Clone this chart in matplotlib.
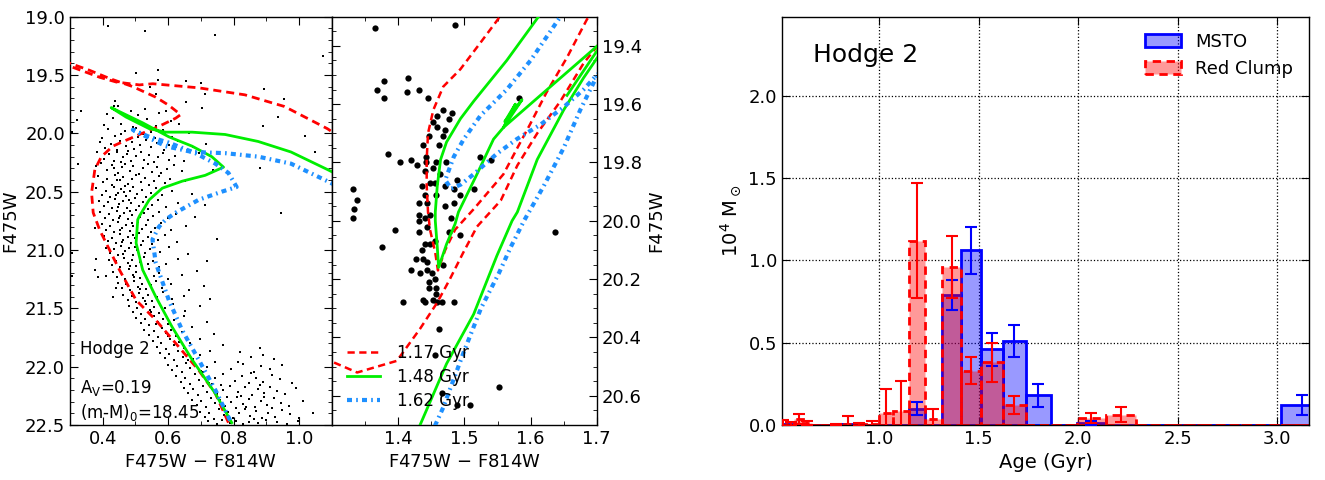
import matplotlib
matplotlib.use("Agg")
import matplotlib.pyplot as plt
import numpy as np
from matplotlib.ticker import MultipleLocator

# ---------------- CMD photometry (F475W - F814W, F475W)
cmd_stars = [
    (0.416, 19.08), (0.530, 19.12), (0.744, 19.16), (1.074, 19.34), (0.502, 19.48), (0.570, 19.46),
    (0.570, 19.54), (0.653, 19.55), (0.700, 19.57), (0.544, 19.60), (0.562, 19.66), (0.713, 19.66),
    (0.893, 19.62), (0.953, 19.71), (0.439, 19.72), (0.436, 19.77), (0.335, 19.81), (0.320, 19.89),
    (0.653, 19.73), (0.703, 19.78), (0.935, 19.86), (0.890, 19.94), (1.018, 20.02), (1.048, 20.16),
    (0.880, 20.30), (0.943, 20.68), (0.305, 19.99), (0.325, 20.26), (0.376, 20.81), (0.379, 21.08),
    (0.376, 21.17), (0.386, 21.23), (0.411, 21.22), (0.431, 21.40), (0.441, 21.33), (0.305, 21.03),
    (0.306, 21.22),
    # turnoff region
    (0.447, 19.763), (0.486, 19.812), (0.529, 19.788), (0.412, 19.834), (0.463, 19.846), (0.571, 19.829),
    (0.508, 19.841), (0.594, 19.807), (0.431, 19.872), (0.455, 19.918), (0.478, 19.861), (0.517, 19.903),
    (0.536, 19.879), (0.562, 19.937), (0.608, 19.894), (0.403, 19.926), (0.492, 19.944), (0.633, 19.921),
    (0.417, 19.967), (0.439, 20.021), (0.468, 19.984), (0.483, 20.046), (0.501, 19.958), (0.524, 20.008),
    (0.547, 19.991), (0.559, 20.037), (0.583, 19.973), (0.612, 20.029), (0.664, 19.996), (0.398, 20.043),
    (0.456, 20.004), (0.509, 20.031), (0.391, 20.071), (0.407, 20.128), (0.426, 20.089), (0.444, 20.142),
    (0.452, 20.063), (0.471, 20.109), (0.489, 20.077), (0.497, 20.136), (0.514, 20.098), (0.532, 20.054),
    (0.548, 20.121), (0.566, 20.083), (0.588, 20.147), (0.603, 20.104), (0.629, 20.068), (0.676, 20.117),
    (0.715, 20.091), (0.478, 20.149), (0.384, 20.163), (0.403, 20.219), (0.419, 20.181), (0.436, 20.241),
    (0.443, 20.157), (0.461, 20.204), (0.474, 20.176), (0.486, 20.233), (0.503, 20.192), (0.516, 20.158),
    (0.527, 20.226), (0.541, 20.185), (0.557, 20.247), (0.569, 20.207), (0.584, 20.169), (0.602, 20.229),
    (0.621, 20.196), (0.647, 20.238), (0.693, 20.172), (0.455, 20.248), (0.379, 20.284), (0.396, 20.257),
    (0.412, 20.316), (0.428, 20.273), (0.447, 20.339), (0.458, 20.291), (0.469, 20.262), (0.482, 20.324),
    (0.494, 20.281), (0.511, 20.347), (0.523, 20.301), (0.538, 20.266), (0.551, 20.329), (0.567, 20.289),
    (0.579, 20.343), (0.596, 20.308), (0.618, 20.271), (0.641, 20.326), (0.738, 20.311), (0.433, 20.301),
    (0.386, 20.367), (0.401, 20.421), (0.414, 20.388), (0.427, 20.441), (0.438, 20.359), (0.452, 20.402),
    (0.463, 20.374), (0.478, 20.433), (0.489, 20.391), (0.501, 20.356), (0.517, 20.417), (0.529, 20.381),
    (0.542, 20.446), (0.556, 20.407), (0.571, 20.363), (0.589, 20.428), (0.606, 20.394), (0.652, 20.412),
    (0.468, 20.449), (0.443, 20.396),
    # upper main sequence
    (0.381, 20.472), (0.397, 20.526), (0.409, 20.491), (0.423, 20.543), (0.436, 20.461), (0.448, 20.508),
    (0.457, 20.479), (0.471, 20.537), (0.483, 20.497), (0.494, 20.458), (0.506, 20.521), (0.519, 20.484),
    (0.532, 20.548), (0.547, 20.512), (0.563, 20.469), (0.581, 20.531), (0.612, 20.494), (0.672, 20.516),
    (0.441, 20.529), (0.466, 20.503), (0.389, 20.576), (0.403, 20.624), (0.416, 20.591), (0.428, 20.643),
    (0.439, 20.563), (0.451, 20.607), (0.462, 20.581), (0.474, 20.638), (0.487, 20.598), (0.498, 20.557),
    (0.511, 20.619), (0.523, 20.586), (0.537, 20.647), (0.552, 20.611), (0.568, 20.571), (0.593, 20.629),
    (0.631, 20.596), (0.712, 20.617), (0.446, 20.628), (0.479, 20.569), (0.392, 20.678), (0.406, 20.724),
    (0.418, 20.691), (0.431, 20.741), (0.443, 20.663), (0.454, 20.708), (0.466, 20.682), (0.477, 20.737),
    (0.489, 20.697), (0.501, 20.659), (0.514, 20.719), (0.526, 20.686), (0.539, 20.746), (0.553, 20.712),
    (0.571, 20.671), (0.598, 20.729), (0.624, 20.694), (0.681, 20.716), (0.449, 20.728), (0.483, 20.669),
    (0.397, 20.779), (0.411, 20.826), (0.423, 20.791), (0.436, 20.843), (0.447, 20.763), (0.458, 20.809),
    (0.471, 20.784), (0.482, 20.838), (0.494, 20.798), (0.507, 20.758), (0.519, 20.821), (0.531, 20.787),
    (0.546, 20.847), (0.561, 20.813), (0.579, 20.772), (0.609, 20.831), (0.653, 20.796), (0.452, 20.829),
    (0.488, 20.768), (0.403, 20.881), (0.416, 20.927), (0.428, 20.893), (0.441, 20.944), (0.452, 20.864),
    (0.463, 20.911), (0.476, 20.886), (0.487, 20.939), (0.499, 20.899), (0.512, 20.858), (0.524, 20.922),
    (0.537, 20.889), (0.552, 20.948), (0.568, 20.914), (0.589, 20.873), (0.627, 20.932), (0.748, 20.904),
    (0.458, 20.931), (0.493, 20.869), (0.409, 20.983), (0.421, 21.028), (0.434, 20.994), (0.446, 21.046),
    (0.457, 20.964), (0.469, 21.012), (0.481, 20.987), (0.492, 21.039), (0.504, 20.999), (0.517, 20.958),
    (0.529, 21.023), (0.543, 20.991), (0.558, 21.048), (0.576, 21.014), (0.603, 20.973), (0.662, 21.031),
    (0.463, 21.034), (0.498, 20.971), (0.418, 21.084), (0.429, 21.129), (0.442, 21.096), (0.454, 21.147),
    (0.466, 21.066), (0.477, 21.113), (0.489, 21.088), (0.501, 21.139), (0.513, 21.101), (0.526, 21.061),
    (0.538, 21.124), (0.553, 21.092), (0.571, 21.148), (0.594, 21.116), (0.631, 21.076), (0.718, 21.098),
    (0.482, 21.136), (0.431, 21.186), (0.443, 21.228), (0.456, 21.194), (0.468, 21.246), (0.479, 21.167),
    (0.491, 21.213), (0.503, 21.188), (0.514, 21.239), (0.527, 21.201), (0.541, 21.162), (0.556, 21.224),
    (0.573, 21.193), (0.599, 21.247), (0.642, 21.216), (0.688, 21.178), (0.497, 21.232), (0.447, 21.284),
    (0.459, 21.327), (0.472, 21.293), (0.484, 21.346), (0.496, 21.268), (0.508, 21.314), (0.519, 21.289),
    (0.532, 21.338), (0.546, 21.301), (0.562, 21.263), (0.581, 21.324), (0.608, 21.292), (0.663, 21.341),
    (0.708, 21.309), (0.513, 21.331), (0.463, 21.386), (0.476, 21.428), (0.488, 21.393), (0.501, 21.446),
    (0.512, 21.367), (0.524, 21.414), (0.537, 21.389), (0.551, 21.437), (0.566, 21.401), (0.584, 21.362),
    (0.612, 21.424), (0.647, 21.397), (0.728, 21.421), (0.529, 21.441),
    # lower main sequence and the faint red group
    (0.481, 21.484), (0.494, 21.528), (0.506, 21.493), (0.518, 21.546), (0.531, 21.467), (0.543, 21.514),
    (0.557, 21.489), (0.572, 21.537), (0.589, 21.501), (0.614, 21.463), (0.652, 21.524), (0.698, 21.478),
    (0.548, 21.531), (0.503, 21.586), (0.516, 21.628), (0.529, 21.593), (0.542, 21.646), (0.556, 21.567),
    (0.569, 21.614), (0.583, 21.589), (0.598, 21.637), (0.619, 21.601), (0.647, 21.563), (0.718, 21.618),
    (0.562, 21.633), (0.527, 21.684), (0.541, 21.727), (0.556, 21.693), (0.568, 21.746), (0.581, 21.667),
    (0.593, 21.714), (0.608, 21.689), (0.624, 21.737), (0.643, 21.701), (0.672, 21.663), (0.739, 21.722),
    (0.599, 21.741), (0.553, 21.784), (0.566, 21.828), (0.579, 21.793), (0.593, 21.846), (0.606, 21.767),
    (0.619, 21.814), (0.632, 21.789), (0.648, 21.837), (0.667, 21.801), (0.698, 21.763), (0.768, 21.818),
    (0.879, 21.843), (0.576, 21.886), (0.589, 21.928), (0.603, 21.893), (0.617, 21.946), (0.631, 21.867),
    (0.644, 21.914), (0.659, 21.889), (0.676, 21.937), (0.697, 21.901), (0.728, 21.863), (0.818, 21.878),
    (0.852, 21.921), (0.889, 21.897), (0.923, 21.934), (0.661, 21.941), (0.598, 21.986), (0.612, 22.029),
    (0.626, 21.994), (0.641, 22.046), (0.655, 21.967), (0.668, 22.013), (0.683, 21.989), (0.699, 22.037),
    (0.718, 22.002), (0.743, 21.963), (0.791, 22.021), (0.828, 21.976), (0.861, 22.043), (0.884, 21.991),
    (0.912, 22.017), (0.948, 21.982), (0.812, 21.958), (0.706, 22.048), (0.623, 22.084), (0.638, 22.128),
    (0.652, 22.093), (0.667, 22.146), (0.681, 22.067), (0.694, 22.113), (0.709, 22.089), (0.724, 22.137),
    (0.742, 22.101), (0.766, 22.063), (0.803, 22.121), (0.826, 22.076), (0.847, 22.143), (0.869, 22.094),
    (0.891, 22.128), (0.918, 22.071), (0.942, 22.109), (0.979, 22.138), (0.853, 22.058), (0.733, 22.149),
    (0.648, 22.186), (0.662, 22.228), (0.677, 22.193), (0.691, 22.246), (0.706, 22.167), (0.719, 22.214),
    (0.734, 22.189), (0.749, 22.237), (0.766, 22.201), (0.788, 22.163), (0.812, 22.221), (0.834, 22.177),
    (0.856, 22.243), (0.873, 22.194), (0.894, 22.229), (0.911, 22.171), (0.932, 22.208), (0.958, 22.238),
    (0.991, 22.186), (0.823, 22.249), (0.762, 22.158), (0.879, 22.153), (0.672, 22.284), (0.687, 22.327),
    (0.701, 22.293), (0.716, 22.346), (0.731, 22.267), (0.744, 22.314), (0.759, 22.289), (0.774, 22.337),
    (0.791, 22.301), (0.809, 22.263), (0.827, 22.321), (0.846, 22.277), (0.864, 22.343), (0.882, 22.294),
    (0.901, 22.329), (0.923, 22.271), (0.944, 22.308), (0.968, 22.338), (1.012, 22.296), (0.838, 22.349),
    (0.781, 22.258), (0.893, 22.256), (0.697, 22.386), (0.712, 22.428), (0.726, 22.393), (0.741, 22.446),
    (0.756, 22.367), (0.769, 22.414), (0.784, 22.389), (0.799, 22.437), (0.816, 22.401), (0.834, 22.363),
    (0.851, 22.421), (0.869, 22.377), (0.887, 22.443), (0.906, 22.394), (0.927, 22.429), (0.949, 22.371),
    (0.972, 22.408), (0.998, 22.438), (1.041, 22.396), (0.861, 22.449), (0.808, 22.358), (0.918, 22.356),
    (0.721, 22.466), (0.748, 22.489), (0.763, 22.458), (0.789, 22.481), (0.806, 22.463), (0.829, 22.493),
    (0.848, 22.471), (0.873, 22.486), (0.898, 22.459), (0.931, 22.478), (0.962, 22.491), (0.997, 22.469),
]

# red clump region stars (middle panel)
rc_stars = [
    (1.365, 19.34), (1.486, 19.33), (1.379, 19.52), (1.368, 19.55), (1.379, 19.58), (1.415, 19.51),
    (1.414, 19.56), (1.431, 19.55), (1.445, 19.58), (1.583, 19.58), (1.468, 19.62), (1.481, 19.63),
    (1.459, 19.64), (1.476, 19.65), (1.453, 19.66), (1.459, 19.68), (1.471, 19.69), (1.447, 19.71),
    (1.468, 19.71), (1.438, 19.74), (1.462, 19.74), (1.384, 19.77), (1.403, 19.80), (1.419, 19.79),
    (1.429, 19.81), (1.442, 19.78), (1.442, 19.80), (1.457, 19.80), (1.453, 19.82), (1.441, 19.83),
    (1.463, 19.84), (1.456, 19.87), (1.472, 19.80), (1.524, 19.78), (1.540, 19.79), (1.436, 19.88),
    (1.448, 19.87), (1.471, 19.88), (1.484, 19.89), (1.489, 19.86), (1.515, 19.89), (1.494, 19.91),
    (1.440, 19.91), (1.457, 19.91), (1.431, 19.94), (1.444, 19.94), (1.471, 19.95), (1.485, 19.94),
    (1.332, 19.89), (1.338, 19.93), (1.333, 19.96), (1.331, 19.99), (1.432, 19.98), (1.441, 19.99),
    (1.448, 19.98), (1.479, 19.99), (1.395, 20.03), (1.375, 20.09), (1.431, 20.00), (1.432, 20.04),
    (1.443, 20.02), (1.440, 20.08), (1.448, 20.08), (1.436, 20.10), (1.456, 20.07), (1.477, 20.04),
    (1.493, 20.05), (1.427, 20.13), (1.438, 20.13), (1.443, 20.14), (1.420, 20.17), (1.433, 20.18),
    (1.444, 20.17), (1.451, 20.18), (1.446, 20.21), (1.456, 20.20), (1.447, 20.23), (1.457, 20.23),
    (1.457, 20.25), (1.438, 20.27), (1.440, 20.28), (1.453, 20.27), (1.458, 20.28), (1.466, 20.28),
    (1.407, 20.28), (1.484, 20.28), (1.468, 20.15), (1.462, 20.37), (1.637, 20.04), (1.455, 20.46),
    (1.466, 20.59), (1.553, 20.57), (1.489, 20.63), (1.509, 20.63),
]

# isochrones in the full CMD (left panel)
iso117_col = [0.784, 0.744, 0.693, 0.623, 0.562, 0.502, 0.451, 0.421, 0.391, 0.371, 0.366, 0.376, 0.396,
              0.431, 0.471, 0.512, 0.572, 0.623, 0.638, 0.602, 0.562, 0.492, 0.421, 0.360, 0.300, 0.270,
              0.300, 0.391, 0.441, 0.512, 0.553, 0.693, 0.834, 0.955, 1.086, 1.150]
iso117_mag = [22.48, 22.23, 22.03, 21.80, 21.60, 21.43, 21.17, 21.00, 20.83, 20.68, 20.51, 20.31, 20.20,
              20.11, 20.06, 20.01, 19.94, 19.87, 19.84, 19.76, 19.69, 19.60, 19.53, 19.46, 19.40, 19.37,
              19.425, 19.52, 19.56, 19.585, 19.575, 19.61, 19.67, 19.77, 19.96, 20.08]
iso148_col = [0.794, 0.744, 0.673, 0.612, 0.562, 0.522, 0.502, 0.507, 0.512, 0.542, 0.582, 0.643, 0.713,
              0.769, 0.733, 0.673, 0.602, 0.522, 0.426, 0.471, 0.542, 0.592, 0.673, 0.774, 0.875, 0.975,
              1.086, 1.150]
iso148_mag = [22.48, 22.23, 21.94, 21.66, 21.40, 21.17, 20.94, 20.74, 20.71, 20.57, 20.47, 20.41, 20.36,
              20.29, 20.20, 20.11, 20.03, 19.91, 19.78, 19.86, 19.96, 19.99, 19.99, 20.01, 20.07, 20.16,
              20.31, 20.40]
iso162_col = [0.789, 0.744, 0.693, 0.643, 0.602, 0.562, 0.552, 0.572, 0.592, 0.623, 0.693, 0.764, 0.809,
              0.784, 0.744, 0.683, 0.602, 0.542, 0.492, 0.542, 0.592, 0.673, 0.774, 0.875, 0.975, 1.086,
              1.150]
iso162_mag = [22.46, 22.20, 21.94, 21.69, 21.43, 21.11, 20.91, 20.80, 20.74, 20.68, 20.57, 20.50, 20.46,
              20.34, 20.26, 20.17, 20.08, 20.03, 19.97, 20.04, 20.11, 20.16, 20.17, 20.20, 20.26, 20.41,
              20.50]

# isochrones around the red clump (middle panel), several pieces each
rc117_col = [[1.250, 1.297, 1.338, 1.398, 1.433, 1.459, 1.478, 1.498, 1.519, 1.555, 1.580, 1.610, 1.645,
              1.680, 1.701, 1.750],
             [1.580, 1.552, 1.524, 1.494, 1.468, 1.453, 1.445, 1.443, 1.443, 1.445, 1.448, 1.456, 1.460,
              1.471, 1.486, 1.514, 1.559, 1.580, 1.599, 1.624, 1.655, 1.685, 1.700]]
rc117_mag = [[20.38, 20.48, 20.52, 20.48, 20.37, 20.28, 20.20, 20.11, 20.02, 19.93, 19.81, 19.70, 19.59,
              19.46, 19.40, 19.25],
             [19.22, 19.305, 19.39, 19.48, 19.54, 19.62, 19.70, 19.79, 19.88, 19.97, 20.03, 20.11, 20.17,
              20.10, 20.03, 19.96, 19.84, 19.75, 19.67, 19.56, 19.44, 19.31, 19.26]]
rc148_col = [[1.410, 1.433, 1.473, 1.514, 1.549, 1.572, 1.580, 1.610, 1.650, 1.680, 1.701, 1.750],
             [1.750, 1.701, 1.559, 1.587, 1.561, 1.577, 1.559, 1.544, 1.519, 1.491, 1.486, 1.473, 1.461,
              1.459, 1.456, 1.456, 1.459, 1.464, 1.473, 1.494, 1.514, 1.564, 1.612, 1.630],
             [1.750, 1.701, 1.655]]
rc148_mag = [[20.80, 20.70, 20.49, 20.32, 20.12, 20.00, 19.97, 19.79, 19.62, 19.51, 19.44, 19.33],
             [19.31, 19.40, 19.68, 19.585, 19.66, 19.60, 19.68, 19.72, 19.84, 19.97, 20.01, 20.08, 20.16,
              20.09, 20.00, 19.97, 19.88, 19.79, 19.73, 19.65, 19.59, 19.45, 19.30, 19.24],
             [19.33, 19.415, 19.57]]
rc162_col = [[1.440, 1.456, 1.468, 1.499, 1.525, 1.552, 1.570, 1.590, 1.620, 1.650, 1.675, 1.701, 1.750],
             [1.670, 1.645, 1.600, 1.564, 1.524, 1.499, 1.484, 1.471, 1.480, 1.495, 1.514, 1.549, 1.579,
              1.615, 1.650, 1.680, 1.700, 1.750]]
rc162_mag = [[20.80, 20.70, 20.64, 20.45, 20.30, 20.18, 20.09, 20.00, 19.88, 19.75, 19.62, 19.50, 19.40],
             [19.22, 19.30, 19.45, 19.55, 19.64, 19.72, 19.78, 19.86, 19.89, 19.875, 19.84, 19.77, 19.72,
              19.67, 19.61, 19.55, 19.50, 19.42]]

iso_labels = ["1.17 Gyr", "1.48 Gyr", "1.62 Gyr"]

# ---------------- star formation history (mass per age bin)
age_edges = [0.501, 0.537, 0.575, 0.617, 0.661, 0.708, 0.759, 0.813, 0.871, 0.933, 1.000, 1.072, 1.148,
             1.230, 1.318, 1.413, 1.514, 1.622, 1.738, 1.862, 1.995, 2.138, 2.291, 2.455, 2.630, 2.818,
             3.020, 3.236]
msto_mass = [0.005, 0.003, 0.0, 0.0, 0.0, 0.0, 0.004, 0.003, 0.0, 0.0, 0.0, 0.0, 0.10, 0.0, 0.79, 1.06,
             0.46, 0.51, 0.18, 0.0, 0.012, 0.0, 0.0, 0.0, 0.0, 0.0, 0.12]
msto_err = [0.0, 0.0, 0.0, 0.0, 0.0, 0.0, 0.0, 0.0, 0.0, 0.0, 0.0, 0.0, 0.04, 0.0, 0.09, 0.14,
            0.10, 0.10, 0.07, 0.0, 0.012, 0.0, 0.0, 0.0, 0.0, 0.0, 0.06]
rc_mass = [0.012, 0.008, 0.035, 0.012, 0.0, 0.0, 0.004, 0.008, 0.004, 0.006, 0.07, 0.087, 1.12, 0.037,
           0.96, 0.33, 0.38, 0.12, 0.0, 0.0, 0.045, 0.063, 0.0, 0.0, 0.0, 0.0, 0.0]
rc_err = [0.018, 0.012, 0.03, 0.01, 0.0, 0.0, 0.005, 0.045, 0.01, 0.02, 0.15, 0.18, 0.35, 0.06,
          0.19, 0.08, 0.12, 0.055, 0.0, 0.0, 0.03, 0.045, 0.0, 0.0, 0.0, 0.0, 0.0]

# ---------------- style
plt.rcParams["xtick.direction"] = "in"
plt.rcParams["ytick.direction"] = "in"
plt.rcParams["xtick.top"] = True
plt.rcParams["ytick.right"] = True
plt.rcParams["xtick.major.size"] = 6
plt.rcParams["ytick.major.size"] = 6
plt.rcParams["xtick.minor.size"] = 3
plt.rcParams["ytick.minor.size"] = 3
plt.rcParams["xtick.labelsize"] = 13
plt.rcParams["ytick.labelsize"] = 13
plt.rcParams["axes.linewidth"] = 1.0

RED = "red"
GREEN = "#00ee00"
BLUE = "dodgerblue"
red_ls = (0, (2.9, 1.8))
blue_ls = (0, (1.2, 1.0, 0.4, 1.0))

fig = plt.figure(figsize=(13.25, 4.8), dpi=100)
ax1 = fig.add_axes([0.0528, 0.1146, 0.1977, 0.8507])
ax2 = fig.add_axes([0.2506, 0.1146, 0.1998, 0.8507])
ax3 = fig.add_axes([0.5900, 0.1146, 0.3982, 0.8507])

# ---- left: full CMD
cs = np.array(cmd_stars)
ax1.plot(cs[:, 0], cs[:, 1], "s", color="k", ms=2.0, mew=0, zorder=1)
ax1.plot(iso117_col, iso117_mag, color=RED, ls=red_ls, lw=2, zorder=3)
ax1.plot(iso148_col, iso148_mag, color=GREEN, lw=2, zorder=3)
ax1.plot(iso162_col, iso162_mag, color=BLUE, ls=blue_ls, lw=3, zorder=3)
ax1.set_xlim(0.3, 1.1)
ax1.set_ylim(22.5, 19.0)
ax1.xaxis.set_minor_locator(MultipleLocator(0.1))
ax1.yaxis.set_major_locator(MultipleLocator(0.5))
ax1.yaxis.set_minor_locator(MultipleLocator(0.1))
ax1.set_xticks([0.4, 0.6, 0.8, 1.0])
ax1.set_xlabel("F475W $-$ F814W", fontsize=13)
ax1.set_ylabel("F475W", fontsize=13)
ax1.text(0.04, 0.185, "Hodge 2", transform=ax1.transAxes, fontsize=12, va="center")
ax1.text(0.04, 0.09, r"A$_\mathrm{V}$=0.19", transform=ax1.transAxes, fontsize=12, va="center")
ax1.text(0.04, 0.03, r"(m-M)$_0$=18.45", transform=ax1.transAxes, fontsize=12, va="center")

# ---- middle: red clump zoom
rs = np.array(rc_stars)
ax2.plot(rs[:, 0], rs[:, 1], "o", color="k", ms=4.5, mew=0, zorder=1)
for i, (xs, ys) in enumerate(zip(rc117_col, rc117_mag)):
    ax2.plot(xs, ys, color=RED, ls=red_ls, lw=1.8, zorder=3, label=iso_labels[0] if i == 0 else None)
for i, (xs, ys) in enumerate(zip(rc148_col, rc148_mag)):
    ax2.plot(xs, ys, color=GREEN, lw=2, zorder=3, label=iso_labels[1] if i == 0 else None)
for i, (xs, ys) in enumerate(zip(rc162_col, rc162_mag)):
    ax2.plot(xs, ys, color=BLUE, ls=blue_ls, lw=3, zorder=3, label=iso_labels[2] if i == 0 else None)
ax2.set_xlim(1.3, 1.7)
ax2.set_ylim(20.7, 19.3)
ax2.set_xticks([1.4, 1.5, 1.6, 1.7])
ax2.xaxis.set_minor_locator(MultipleLocator(0.05))
ax2.yaxis.set_major_locator(MultipleLocator(0.2))
ax2.yaxis.set_minor_locator(MultipleLocator(0.05))
ax2.yaxis.set_ticks_position("both")
ax2.yaxis.set_label_position("right")
ax2.tick_params(axis="y", which="both", labelleft=False, labelright=True)
ax2.set_ylabel("F475W", fontsize=13, labelpad=4)
ax2.set_xlabel("F475W $-$ F814W", fontsize=13)
ax2.legend(loc="lower left", frameon=False, fontsize=12, handlelength=2.0,
           handletextpad=1.0, labelspacing=0.35)

# ---- right: star formation history
edges = np.array(age_edges)
widths = np.diff(edges)
centers = np.sqrt(edges[:-1] * edges[1:])
m_mass, m_err = np.array(msto_mass), np.array(msto_err)
r_mass, r_err = np.array(rc_mass), np.array(rc_err)

ax3.set_axisbelow(True)
ax3.grid(True, ls=":", color="k", lw=0.9)
ax3.bar(edges[:-1], m_mass, width=widths, align="edge", facecolor=(0, 0, 1, 0.4),
        edgecolor="blue", lw=2, label="MSTO", zorder=2)
ax3.bar(edges[:-1], r_mass, width=widths, align="edge", facecolor=(1, 0, 0, 0.4),
        edgecolor="red", lw=2, ls=(0, (3, 2)), label="Red Clump", zorder=2)
sel = m_err > 0
ax3.errorbar(centers[sel], m_mass[sel], yerr=m_err[sel], fmt="none", ecolor="blue",
             elinewidth=1.5, capsize=4, capthick=1.5, zorder=3)
sel = r_err > 0
ax3.errorbar(centers[sel], r_mass[sel], yerr=r_err[sel], fmt="none", ecolor="red",
             elinewidth=1.5, capsize=4, capthick=1.5, zorder=3)
ax3.set_xlim(0.511, 3.162)
ax3.set_ylim(0, 2.48)
ax3.set_xticks([1.0, 1.5, 2.0, 2.5, 3.0])
ax3.set_yticks([0.0, 0.5, 1.0, 1.5, 2.0])
ax3.set_xlabel("Age (Gyr)", fontsize=14)
ax3.set_ylabel(r"10$^4$ M$_\odot$", fontsize=14)
ax3.text(0.06, 0.905, "Hodge 2", transform=ax3.transAxes, fontsize=18, va="center")
ax3.legend(loc="upper right", frameon=False, fontsize=13, handlelength=2.0)

fig.savefig("out.png", dpi=100)
